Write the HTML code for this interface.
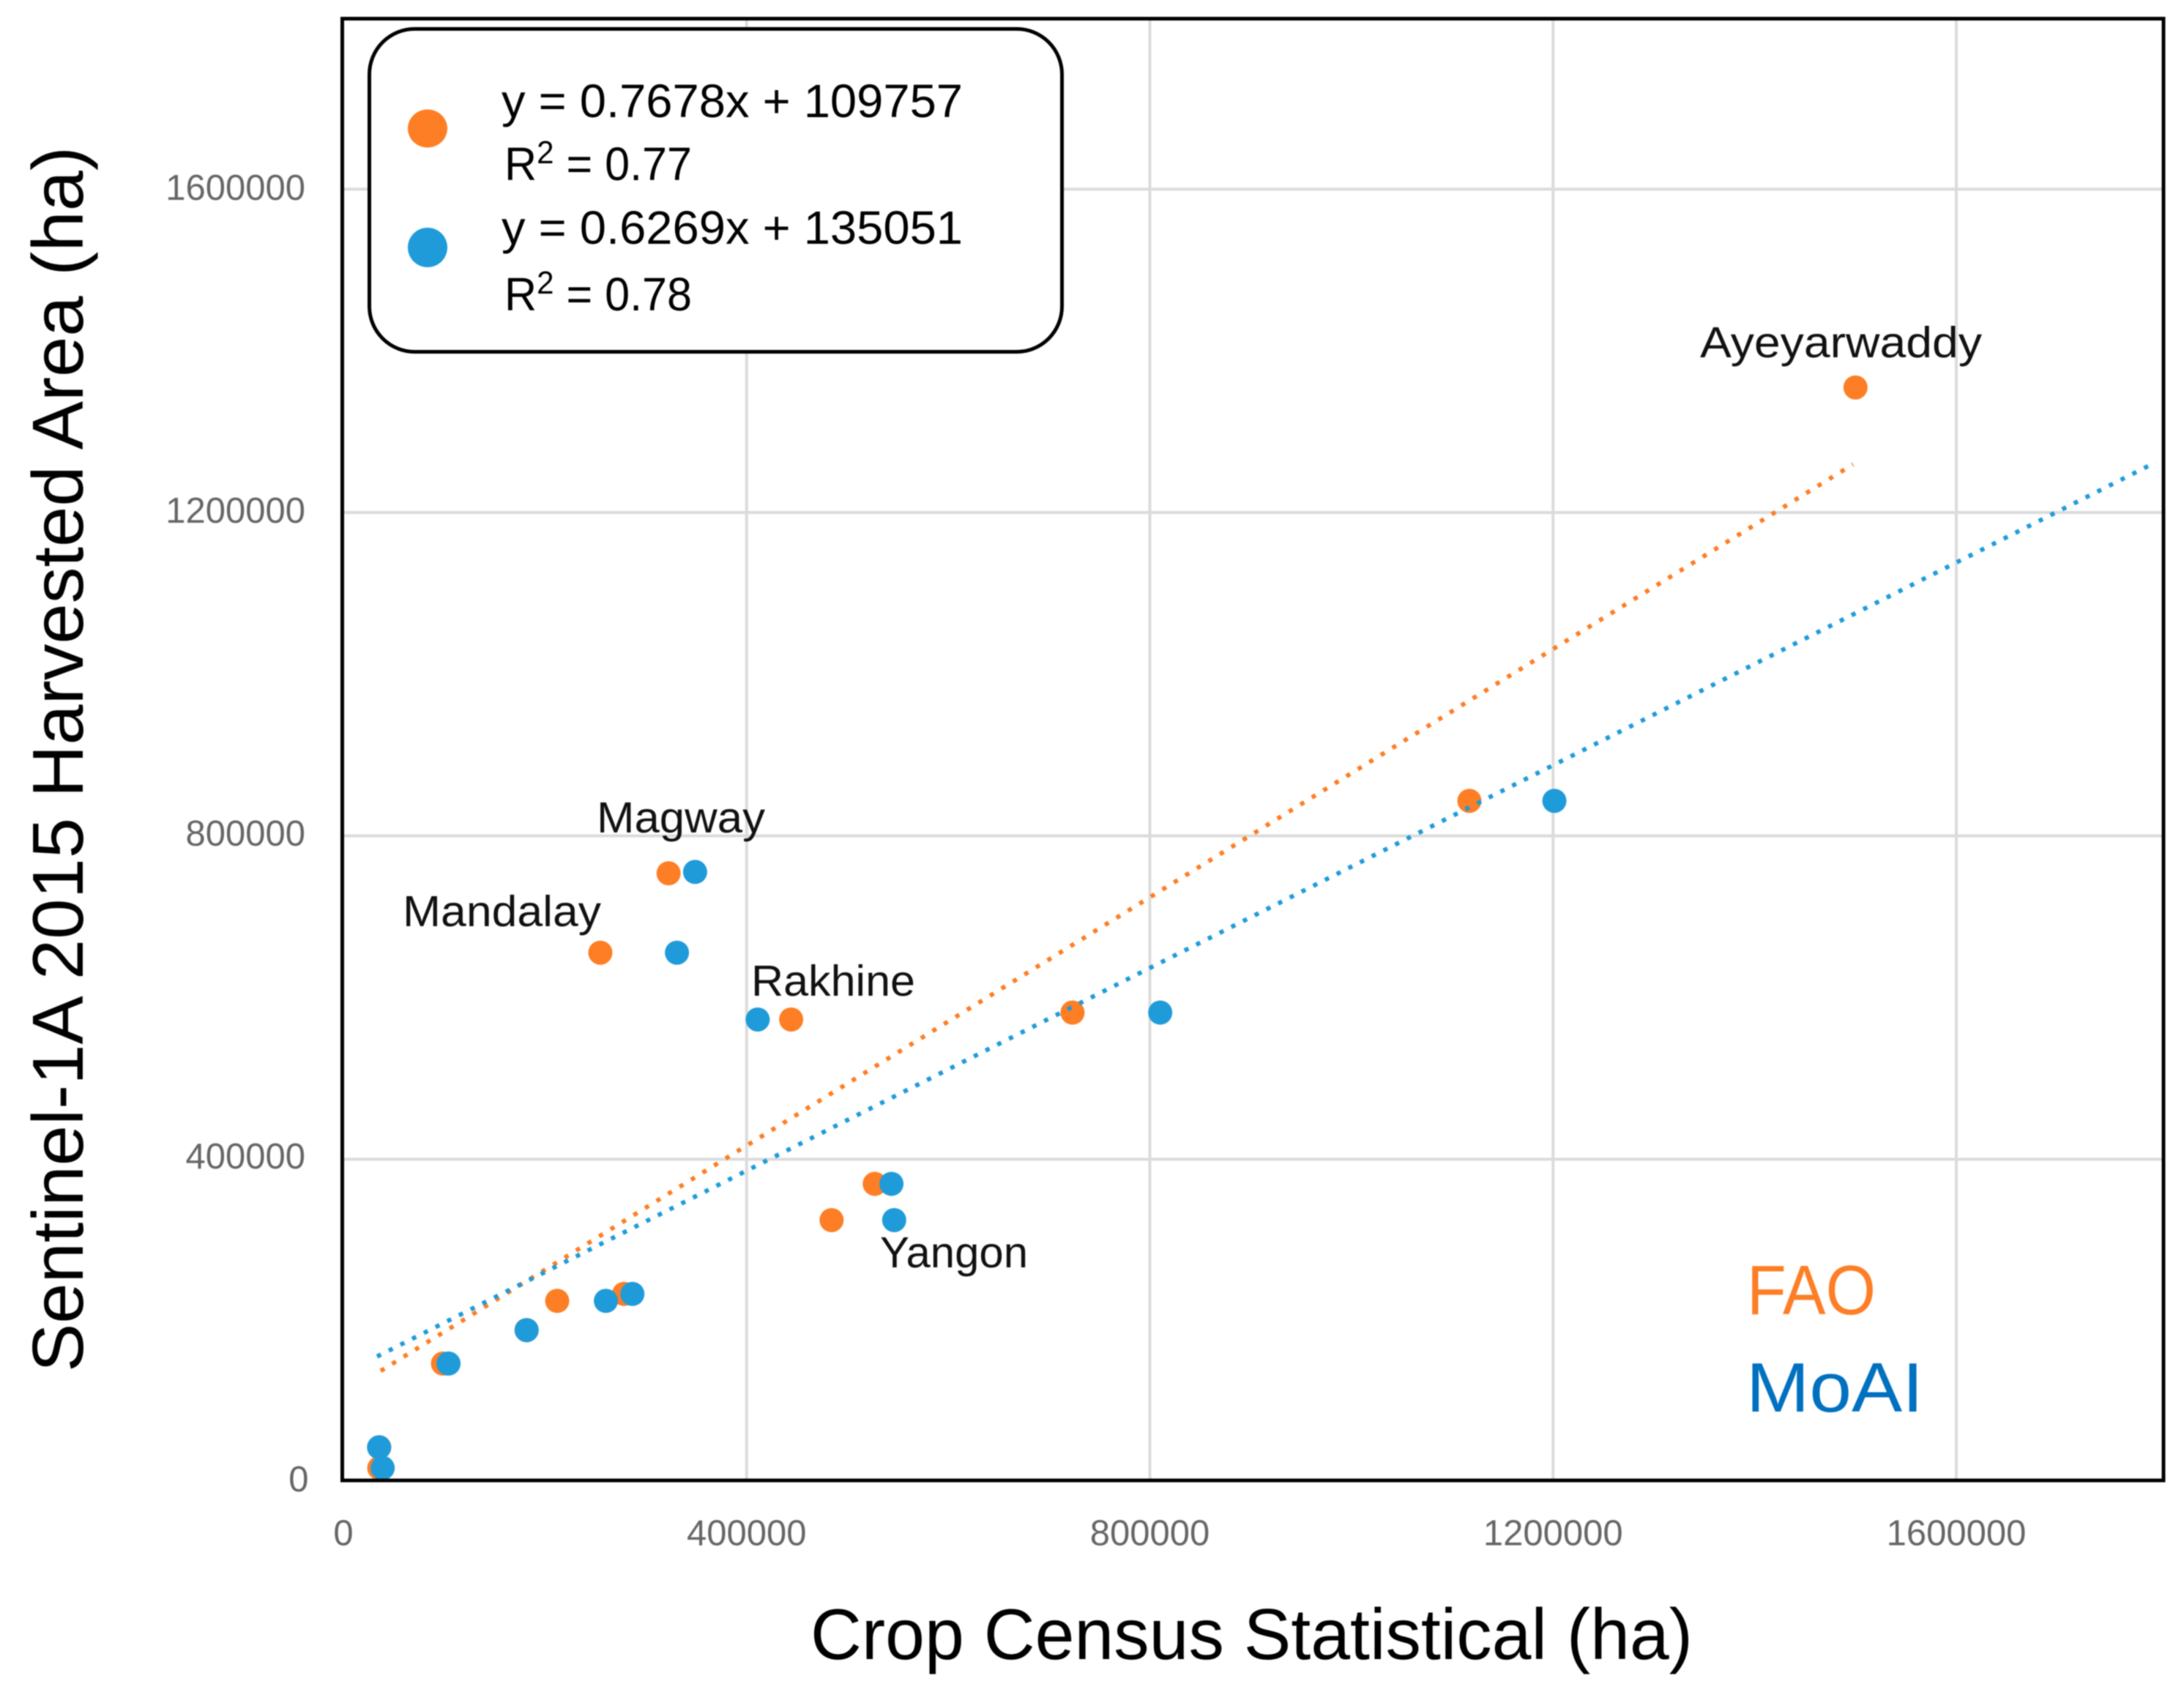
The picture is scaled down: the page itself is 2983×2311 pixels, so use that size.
<!DOCTYPE html>
<html lang="en">
<head>
<meta charset="utf-8">
<title>Sentinel-1A harvested area vs crop census</title>
<style>
html,body{margin:0;padding:0;background:#fff;width:2983px;height:2311px;overflow:hidden}
svg{display:block;filter:blur(0.7px)}
text{font-family:"Liberation Sans",sans-serif}
</style>
</head>
<body>
<svg id="chart" xmlns="http://www.w3.org/2000/svg" width="2983" height="2311" viewBox="0 0 2983 2311">
  <rect x="0" y="0" width="2983" height="2311" fill="#ffffff"/>
  <g id="grid"></g>
  <g id="series"></g>
  <rect x="467.5" y="25.5" width="2487.5" height="1996.5" fill="none" stroke="#000" stroke-width="5"/>
  <g id="ticks" fill="#666666" font-size="49"></g>

  <g>
    <rect x="504.5" y="39.5" width="946" height="441" rx="62" ry="62" fill="#fff" stroke="#000" stroke-width="5"/>
    <ellipse cx="584" cy="175.5" rx="27" ry="26" fill="#fd7e25"/>
    <ellipse cx="584" cy="338" rx="27" ry="27" fill="#1f9bd9"/>
    <text x="685" y="160" font-size="64" fill="#000" textLength="630" lengthAdjust="spacingAndGlyphs">y = 0.7678x + 109757</text>
    <text x="689" y="246" font-size="64" fill="#000" textLength="256" lengthAdjust="spacingAndGlyphs">R<tspan dy="-23" font-size="44">2</tspan><tspan dy="23"> = 0.77</tspan></text>
    <text x="685" y="333" font-size="64" fill="#000" textLength="630" lengthAdjust="spacingAndGlyphs">y = 0.6269x + 135051</text>
    <text x="689" y="424" font-size="64" fill="#000" textLength="256" lengthAdjust="spacingAndGlyphs">R<tspan dy="-23" font-size="44">2</tspan><tspan dy="23"> = 0.78</tspan></text>
  </g>

  <g fill="#111" font-size="59">
    <text x="2322" y="488" textLength="385" lengthAdjust="spacingAndGlyphs">Ayeyarwaddy</text>
    <text x="815" y="1137" textLength="230" lengthAdjust="spacingAndGlyphs">Magway</text>
    <text x="550" y="1265" textLength="271" lengthAdjust="spacingAndGlyphs">Mandalay</text>
    <text x="1026" y="1360" textLength="224" lengthAdjust="spacingAndGlyphs">Rakhine</text>
    <text x="1202" y="1731" textLength="202" lengthAdjust="spacingAndGlyphs">Yangon</text>
  </g>

  <text x="2386" y="1795" font-size="96" fill="#fd7e25" textLength="176" lengthAdjust="spacingAndGlyphs">FAO</text>
  <text x="2385" y="1928" font-size="96" fill="#0070c0" textLength="242" lengthAdjust="spacingAndGlyphs">MoAI</text>

  <text x="1107" y="2266" font-size="98" fill="#000" textLength="1205" lengthAdjust="spacingAndGlyphs">Crop Census Statistical (ha)</text>
  <text transform="translate(113,1874) rotate(-90)" x="0" y="0" font-size="98" fill="#000" textLength="1674" lengthAdjust="spacingAndGlyphs">Sentinel-1A 2015 Harvested Area (ha)</text>
</svg>
<script>
var xTickValues = [400000, 800000, 1200000, 1600000];
var yTickValues = [400000, 800000, 1200000, 1600000];
var xTickLabels = ["0", "400000", "800000", "1200000", "1600000"];
var yTickLabels = ["0", "400000", "800000", "1200000", "1600000"];
var faoX = [35600, 35600, 98800, 181700, 212100, 278400, 254900, 322600, 444200, 484300, 527100, 723300, 1117000, 1500000];
var faoY = [43700, 18100, 147300, 188640, 224780, 233400, 655500, 753700, 572850, 324700, 369560, 581400, 843300, 1354660];
var moaiX = [35400, 39000, 104300, 181800, 260400, 286700, 330900, 348900, 411000, 546400, 543700, 810300, 1201300];
var moaiY = [43700, 18100, 147300, 188640, 224780, 233400, 655500, 755400, 572850, 324700, 369560, 581400, 843300];
var faoTrend = [0.7678, 109757];
var moaiTrend = [0.6269, 135051];
var faoTrendRange = [37000, 1497500];
var moaiTrendRange = [33400, 1798000];

var NS = 'http://www.w3.org/2000/svg';
function xPos(v) { return 469 + v * 550.75 / 400000; }
function yPos(v) { return 2025 - v * 441.67 / 400000; }
function yLabelBaseline(v) { return 2037 - v * 441 / 400000; }
function make(tag, parent) {
  var node = document.createElementNS(NS, tag);
  parent.appendChild(node);
  return node;
}
var gridG = document.getElementById('grid');
var seriesG = document.getElementById('series');
var ticksG = document.getElementById('ticks');

xTickValues.forEach(function (v) {
  var el = make('line', gridG);
  
  
  el.setAttribute('x1', xPos(v));
  el.setAttribute('x2', xPos(v));
  el.setAttribute('y1', 26);
  el.setAttribute('y2', 2022);
  el.setAttribute('stroke', '#dbdbdb');
  el.setAttribute('stroke-width', 4);
});
yTickValues.forEach(function (v) {
  var el = make('line', gridG);
  
  
  el.setAttribute('x1', 469);
  el.setAttribute('x2', 2955);
  el.setAttribute('y1', yPos(v));
  el.setAttribute('y2', yPos(v));
  el.setAttribute('stroke', '#dbdbdb');
  el.setAttribute('stroke-width', 4);
});

xTickLabels.forEach(function (label) {
  var el = make('text', ticksG);
  
  
  el.setAttribute('x', xPos(Number(label)));
  el.setAttribute('y', 2110.5);
  el.setAttribute('text-anchor', 'middle');
  el.textContent = label;
});
yTickLabels.forEach(function (label) {
  var el = make('text', ticksG);
  
  
  el.setAttribute('x', Number(label) === 0 ? 421.5 : 417);
  el.setAttribute('y', yLabelBaseline(Number(label)));
  el.setAttribute('text-anchor', 'end');
  el.textContent = label;
});

function drawPoints(xs, ys, color, name) {
  xs.forEach(function (x, i) {
    var el = make('circle', seriesG);
    
    
    el.setAttribute('cx', xPos(x));
    el.setAttribute('cy', yPos(ys[i]));
    el.setAttribute('r', 16.5);
    el.setAttribute('fill', color);
  });
}
function drawTrend(trend, range, color, name, dash) {
  var el = make('line', seriesG);
  
  
  el.setAttribute('x1', xPos(range[0]));
  el.setAttribute('y1', yPos(trend[0] * range[0] + trend[1]));
  el.setAttribute('x2', xPos(range[1]));
  el.setAttribute('y2', yPos(trend[0] * range[1] + trend[1]));
  el.setAttribute('stroke', color);
  el.setAttribute('stroke-width', 6);
  el.setAttribute('stroke-dasharray', dash);
}
drawPoints(faoX, faoY, '#fd7e25', 'fao-point');
drawTrend(faoTrend, faoTrendRange, '#fd7e25', 'fao-trendline', '6 12.44');
drawPoints(moaiX, moaiY, '#1f9bd9', 'moai-point');
drawTrend(moaiTrend, moaiTrendRange, '#1f9bd9', 'moai-trendline', '6 11.89');
</script>
</body>
</html>
